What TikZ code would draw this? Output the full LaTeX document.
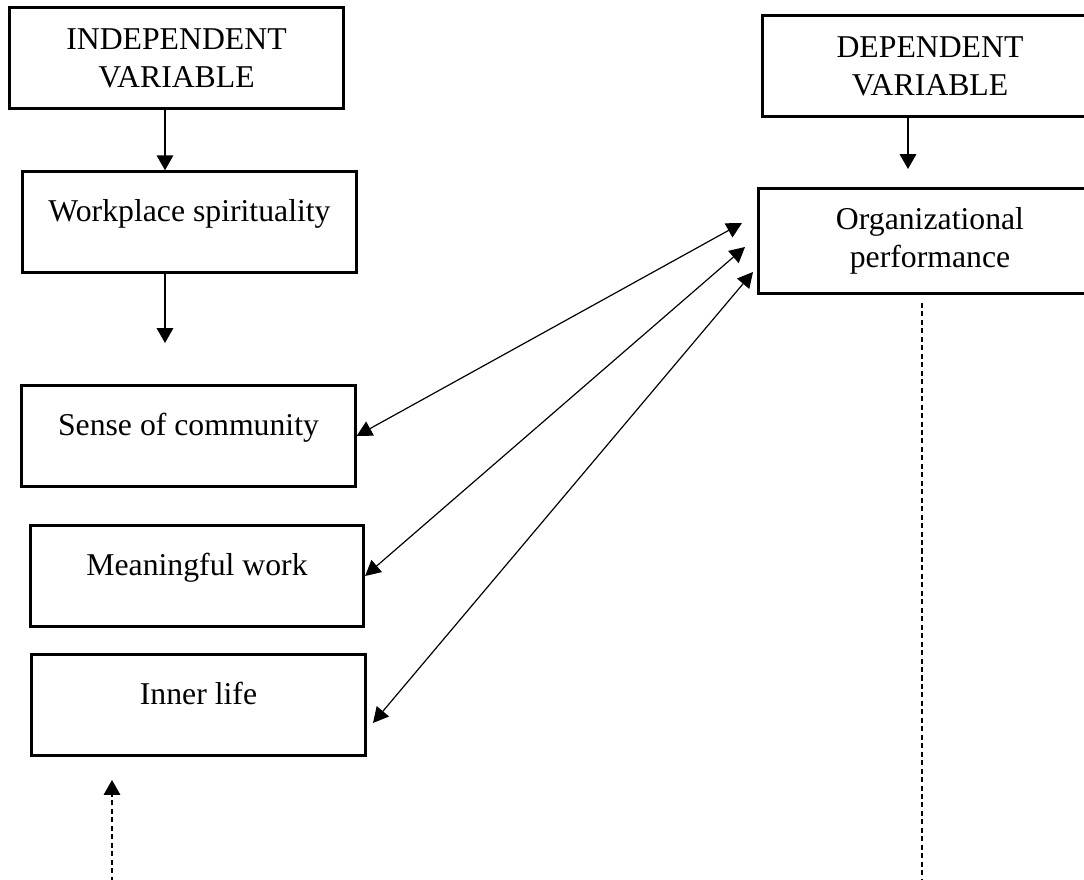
\documentclass[tikz,border=0pt]{standalone}
\usepackage{fontspec}
\setmainfont{Liberation Serif}
\usetikzlibrary{arrows.meta}

\begin{document}
\begin{tikzpicture}[
  x=0.378pt, y=-0.378pt,
  box/.style={draw, line width=1.1pt, minimum width=126pt, minimum height=38pt,
    inner sep=0pt, align=center, font=\fontsize{12}{14.4}\selectfont},
  one/.style={text height=4pt, text depth=4pt},
  arr/.style={-{Triangle[length=5.6pt, width=6.2pt]}, line width=0.6pt},
  both/.style={{Triangle[length=5.8pt, width=6pt]}-{Triangle[length=5.8pt, width=6pt]}, line width=0.45pt},
  dotline/.style={dash pattern=on 1.9pt off 1.3pt, line width=0.5pt}
]
  \useasboundingbox (0,0) rectangle (1084,880);
  \clip (0,0) rectangle (1084,880);

  % independent side
  \node[box] (indep) at (176.5,58) {INDEPENDENT\\VARIABLE};
  \node[box, one] (work) at (189.5,222) {Workplace spirituality};
  \node[box, one] (sense) at (188.5,436) {Sense of community};
  \node[box, one] (mean) at (197,576) {Meaningful work};
  \node[box, one] (inner) at (198.5,705) {Inner life};

  % dependent side
  \node[box, minimum width=126.3pt] (dep) at (930,66) {DEPENDENT\\VARIABLE};
  \node[box, minimum width=130pt, minimum height=40pt] (org) at (930,241) {Organizational\\performance};

  % free ends
  \coordinate (wend) at (165,343);
  \coordinate (orgtop) at (908,169);
  \coordinate (a1) at (742,223);
  \coordinate (a2) at (745,247);
  \coordinate (a3) at (753,272);
  \coordinate (b3) at (373,723);
  \coordinate (dtop) at (922,303);
  \coordinate (dbot) at (922,890);
  \coordinate (utip) at (112,780);
  \coordinate (ubot) at (112,890);

  \draw[arr] (indep.south -| wend) -- (work.north -| wend);
  \draw[arr] (work.south -| wend) -- (wend);
  \draw[arr] (dep.south -| orgtop) -- (orgtop);

  \draw[both] (sense.east) -- (a1);
  \draw[both] (mean.east) -- (a2);
  \draw[both] (b3) -- (a3);

  \draw[dotline] (dtop) -- (dbot);
  \draw[dotline, arr] (ubot) -- (utip);
\end{tikzpicture}
\end{document}
